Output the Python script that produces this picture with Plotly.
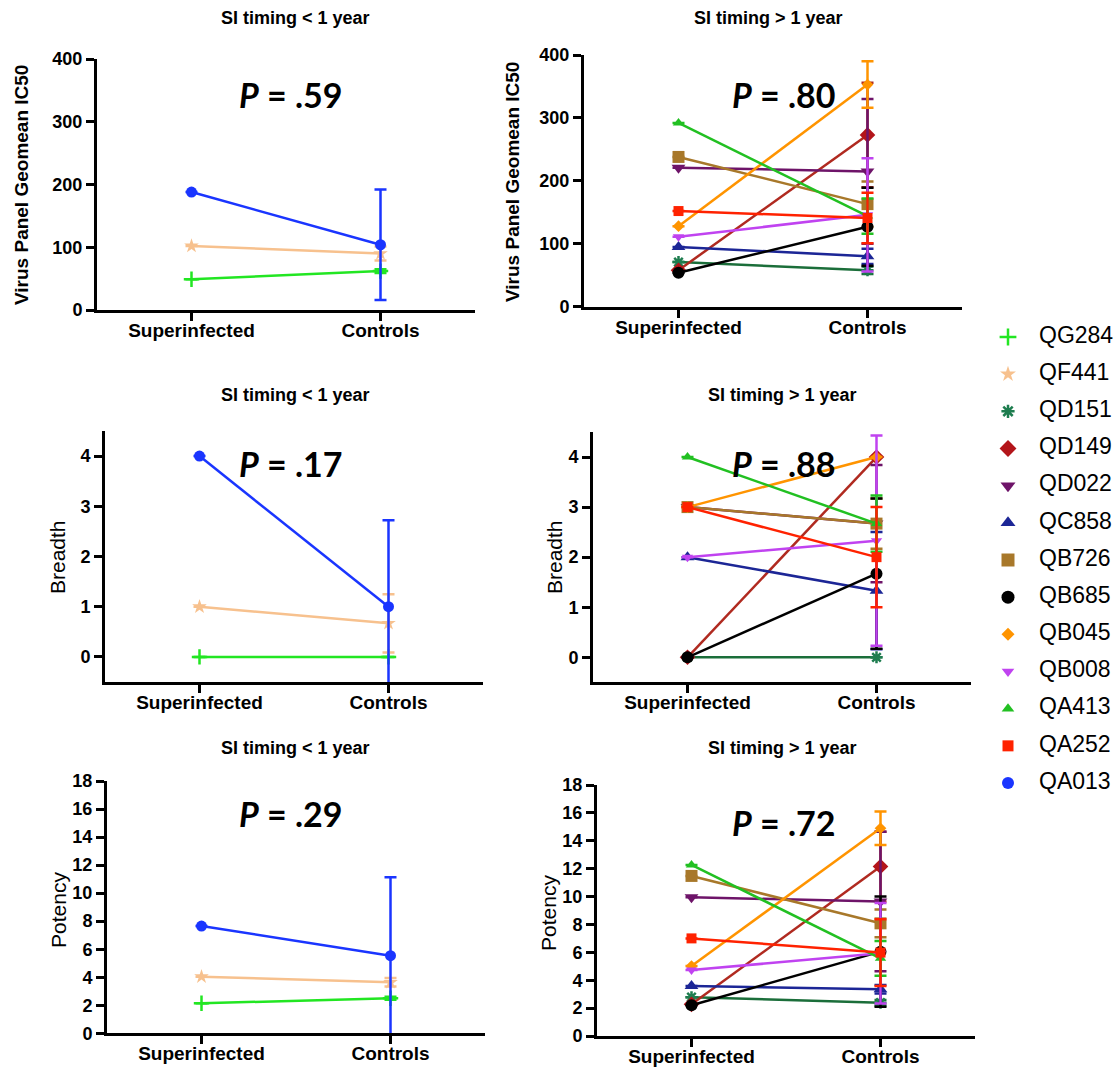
import plotly.graph_objects as go

# ---------------- data ----------------
categories = ["Superinfected", "Controls"]
legend_order = ["QG284", "QF441", "QD151", "QD149", "QD022", "QC858", "QB726",
                "QB685", "QB045", "QB008", "QA413", "QA252", "QA013"]

early_ids = ["QG284", "QF441", "QA013"]
late_ids = ["QD151", "QD149", "QD022", "QC858", "QB726", "QB685", "QB045",
            "QB008", "QA413", "QA252"]

# Virus panel geomean IC50
ic50_early_si = [49, 102, 188]
ic50_early_ctrl = [62, 90, 104]
ic50_early_err = [3, 11, 88]
ic50_late_si = [71, 58, 221, 95, 238, 54, 128, 111, 292, 152]
ic50_late_ctrl = [58, 273, 215, 80, 163, 127, 353, 146, 144, 141]
ic50_late_err = [6, 83, 115, 12, 36, 62, 37, 90, 28, 40]

# Breadth
breadth_early_si = [0, 1, 4]
breadth_early_ctrl = [0, 0.67, 1]
breadth_early_err = [0, 0.58, 1.72]
breadth_late_si = [0, 0, 3, 2, 3, 0, 3, 2, 4, 3]
breadth_late_ctrl = [0, 4, 2.67, 1.33, 2.67, 1.67, 4, 2.33, 2.67, 2]
breadth_late_err = [0, 0, 1.17, 1.17, 0.5, 1.5, 0, 2.1, 0.56, 1.0]

# Potency
potency_early_si = [2.14, 4.04, 7.65]
potency_early_ctrl = [2.5, 3.64, 5.54]
potency_early_err = [0.1, 0.3, 5.6]
potency_late_si = [2.78, 2.27, 9.95, 3.59, 11.48, 2.2, 5.02, 4.73, 12.27, 7.0]
potency_late_ctrl = [2.39, 12.15, 9.64, 3.35, 8.08, 6.05, 14.9, 5.93, 5.57, 5.98]
potency_late_err = [0.2, 2.5, 5.0, 0.3, 1.0, 3.95, 1.2, 3.6, 1.25, 2.4]

p_values = [".59", ".80", ".17", ".88", ".29", ".72"]
panel_titles = ["SI timing < 1 year", "SI timing > 1 year"] * 3
y_titles = ["Virus Panel Geomean IC50", "Breadth", "Potency"]

# ---------------- styles ----------------
style = {
    "QG284": dict(color="#22e622", line="#22e622", symbol="cross-thin", size=11, lw=2.5),
    "QF441": dict(color="#f7c18e", line="#f7c18e", symbol="star", size=11, lw=0),
    "QD151": dict(color="#1e7d4f", line="#1b6e3a", symbol="asterisk-open", size=10, lw=2.5),
    "QD149": dict(color="#b3151a", line="#b02a20", symbol="diamond", size=12, lw=0),
    "QD022": dict(color="#6e1469", line="#6e1469", symbol="triangle-down", size=12, lw=0),
    "QC858": dict(color="#1c2696", line="#1c2696", symbol="triangle-up", size=12, lw=0),
    "QB726": dict(color="#a8782a", line="#a8782a", symbol="square", size=12, lw=0),
    "QB685": dict(color="#000000", line="#000000", symbol="circle", size=12, lw=0),
    "QB045": dict(color="#ff9400", line="#ff9400", symbol="diamond", size=9, lw=0),
    "QB008": dict(color="#c043f0", line="#c043f0", symbol="triangle-down", size=10, lw=0),
    "QA413": dict(color="#22c022", line="#22c022", symbol="triangle-up", size=10, lw=0),
    "QA252": dict(color="#ff2200", line="#ff2200", symbol="square", size=10, lw=0),
    "QA013": dict(color="#1a35ff", line="#1a35ff", symbol="circle", size=11, lw=0),
}

FONT = "Liberation Sans, Arial, sans-serif"
W, H = 1120, 1070

fig = go.Figure()


def add_panel(idx, ids, si, ctrl, err):
    xa = "x" if idx == 1 else f"x{idx}"
    ya = "y" if idx == 1 else f"y{idx}"
    for pid, a, b, e in zip(ids, si, ctrl, err):
        s = style[pid]
        mline = dict(width=s["lw"], color=s["color"]) if s["lw"] else dict(width=0)
        fig.add_trace(go.Scatter(
            x=[0, 1], y=[a, b], mode="lines+markers", xaxis=xa, yaxis=ya,
            line=dict(color=s["line"], width=2.5),
            marker=dict(symbol=s["symbol"], size=s["size"], color=s["color"],
                        line=mline, opacity=1),
            error_y=dict(type="data", array=[0, e], visible=True, color=s["line"],
                         thickness=2.5, width=6),
            showlegend=False, cliponaxis=False, name=pid))


add_panel(1, early_ids, ic50_early_si, ic50_early_ctrl, ic50_early_err)
add_panel(2, late_ids, ic50_late_si, ic50_late_ctrl, ic50_late_err)
add_panel(3, early_ids, breadth_early_si, breadth_early_ctrl, breadth_early_err)
add_panel(4, late_ids, breadth_late_si, breadth_late_ctrl, breadth_late_err)
add_panel(5, early_ids, potency_early_si, potency_early_ctrl, potency_early_err)
add_panel(6, late_ids, potency_late_si, potency_late_ctrl, potency_late_err)

# ---------------- layout (pixel based) ----------------
def px_x(p):
    return p / W


def px_y(p):
    return 1 - p / H


# (x_left, x_right, y_top, y_bottom) in pixels
panels = [
    (97, 475, 59, 310),
    (584, 962, 55, 306.7),
    (105, 483, 431, 682),
    (593, 971, 432, 682.3),
    (107, 485, 781, 1033.3),
    (597, 975, 785, 1036),
]
y_ranges = [[0, 400], [0, 400], [-0.5, 4.5], [-0.5, 4.5], [0, 18], [0, 18]]
y_dticks = [100, 100, 1, 1, 2, 2]

layout = dict(width=W, height=H, autosize=False,
              margin=dict(l=0, r=0, t=0, b=0, pad=0, autoexpand=False),
              plot_bgcolor="white", paper_bgcolor="white", showlegend=False,
              font=dict(family=FONT, color="black"))

for i, (xl, xr, yt, yb) in enumerate(panels):
    n = "" if i == 0 else str(i + 1)
    layout["xaxis" + n] = dict(
        domain=[px_x(xl), px_x(xr)], range=[-0.5, 1.5], anchor="y" + n,
        tickvals=[0, 1], ticktext=[f"<b>{c}</b>" for c in categories],
        ticks="outside", ticklen=8, tickwidth=3, tickcolor="black", automargin=False,
        ticklabelstandoff=-7,
        showline=True, linewidth=3, linecolor="black", showgrid=False, zeroline=False,
        tickfont=dict(size=19, family=FONT, color="black"), fixedrange=True)
    layout["yaxis" + n] = dict(
        domain=[px_y(yb), px_y(yt)], range=y_ranges[i], anchor="x" + n,
        tick0=0, dtick=y_dticks[i], automargin=False, fixedrange=True,
        ticks="outside", ticklen=8, tickwidth=3, tickcolor="black",
        showline=True, linewidth=3, linecolor="black", showgrid=False, zeroline=False,
        tickfont=dict(size=18, family=FONT, color="black", weight="bold"))

# legend axis (pixel units horizontally, one row per entry vertically)
layout["xaxis7"] = dict(domain=[px_x(990), 1.0], range=[0, 130], visible=False,
                        anchor="y7", automargin=False, fixedrange=True)
layout["yaxis7"] = dict(domain=[px_y(801.6), px_y(318.4)], range=[12.5, -0.5],
                        visible=False, anchor="x7", automargin=False, fixedrange=True)

fig.update_layout(**layout)

# legend markers and labels
fig.add_trace(go.Scatter(
    x=[18] * len(legend_order), y=list(range(len(legend_order))),
    mode="markers", xaxis="x7", yaxis="y7", showlegend=False,
    marker=dict(symbol=[style[p]["symbol"] for p in legend_order],
                color=[style[p]["color"] for p in legend_order],
                size=[style[p]["size"] + 1 for p in legend_order], opacity=1,
                line=dict(width=[style[p]["lw"] for p in legend_order],
                          color=[style[p]["color"] for p in legend_order]))))
fig.add_trace(go.Scatter(
    x=[49] * len(legend_order), y=list(range(len(legend_order))),
    mode="text", text=legend_order, textposition="middle right",
    textfont=dict(size=23, family=FONT, color="black"),
    xaxis="x7", yaxis="y7", showlegend=False))

# titles, P values, axis titles
title_pos = [(295, 18), (768, 18), (295, 395), (782, 395), (295, 748), (782, 748)]
p_pos = [(291, 95), (784, 95), (291, 463), (784, 463), (291, 813), (784, 822)]
ytitle_pos = [(22, 185), (512, 182), (57, 557), (554, 557), (58, 910), (548, 913)]

annotations = []
for i in range(6):
    tx, ty = title_pos[i]
    annotations.append(dict(x=px_x(tx), y=px_y(ty), xref="paper", yref="paper",
                            text=f"<b>{panel_titles[i]}</b>", showarrow=False,
                            xanchor="center", yanchor="middle",
                            font=dict(size=18, family=FONT, color="black")))
    pxp, pyp = p_pos[i]
    annotations.append(dict(x=px_x(pxp), y=px_y(pyp), xref="paper", yref="paper",
                            text=f"<i>P</i> = {p_values[i]}", showarrow=False,
                            xanchor="center", yanchor="middle",
                            font=dict(size=34, family="Lato, Open Sans, sans-serif",
                                      color="black", weight="bold")))
    ax_, ay_ = ytitle_pos[i]
    yt = y_titles[i // 2]
    annotations.append(dict(x=px_x(ax_), y=px_y(ay_), xref="paper", yref="paper",
                            text=f"<b>{yt}</b>" if i < 2 else yt, showarrow=False,
                            textangle=-90, xanchor="center", yanchor="middle",
                            font=dict(size=19 if i < 2 else 21, family=FONT, color="black")))

fig.update_layout(annotations=annotations)

fig.write_html("out.html",
               config={"displayModeBar": False},
               post_script="document.body.style.margin='0';"
                           "document.body.style.overflow='hidden';")
